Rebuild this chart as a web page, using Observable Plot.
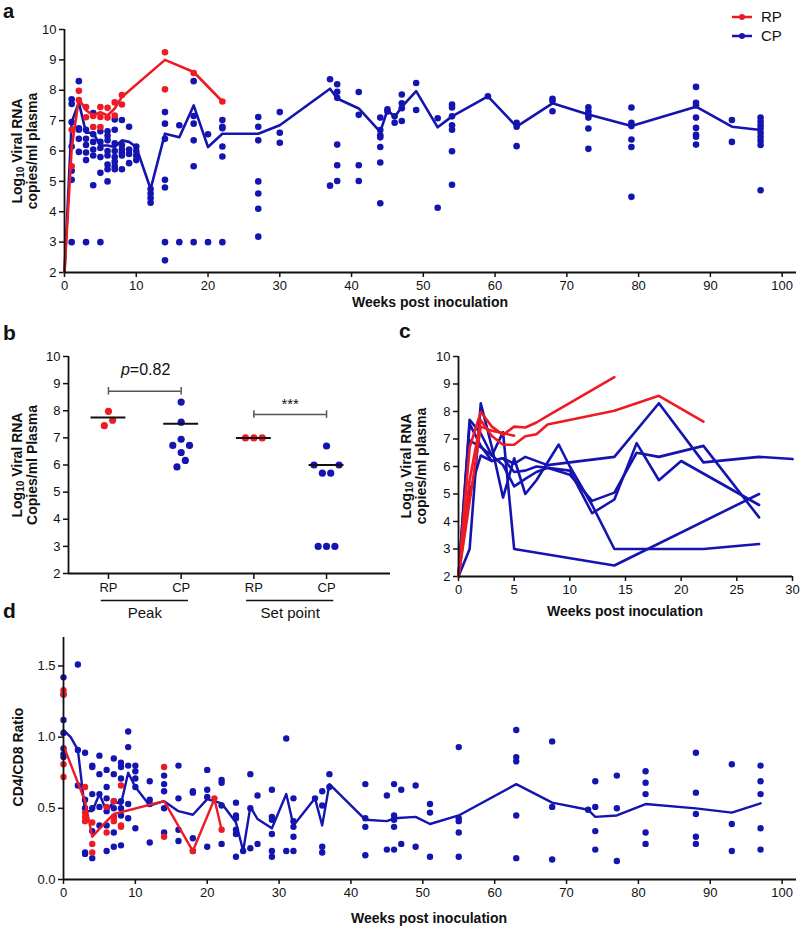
<!DOCTYPE html>
<html><head><meta charset="utf-8">
<script src="https://cdn.jsdelivr.net/npm/d3@7"></script>
<script src="https://cdn.jsdelivr.net/npm/@observablehq/plot@0.6"></script>
<style>
body{margin:0;background:#fff;font-family:"Liberation Sans",Arial,Helvetica,sans-serif;}
#root{position:relative;width:800px;height:929px;overflow:hidden;background:#fff;}
.plab{position:absolute;font-weight:bold;font-size:21px;line-height:14px;color:#111;}
.ylab{position:absolute;font-weight:bold;font-size:14px;color:#111;white-space:nowrap;transform:translate(-50%,-50%) rotate(-90deg);text-align:center;line-height:15px;}
.ylab sub{font-size:10px;line-height:0;vertical-align:-2px;}
.xlab{position:absolute;font-weight:bold;font-size:14px;color:#111;white-space:nowrap;transform:translate(-50%,-50%);}
.leg{position:absolute;display:flex;align-items:center;font-size:15px;color:#111;}
.leg span{margin-left:8px;}
</style></head>
<body><div id="root"></div>
<script>
// ---------- colours ----------
const RED = "#ee1b24", BLUE = "#1414b0";

// ---------- panel a : viral load over time ----------
const weekTicks100 = [0,10,20,30,40,50,60,70,80,90,100];
const viralTicks = [2,3,4,5,6,7,8,9,10];
const rpViralDots = [
  [1,[6.7,5.5]],[2,[7.98,7.68]],[3,[7.45,7.11]],[4,[7.15,6.79]],[5,[7.45,7.12,6.79]],
  [6,[7.42,7.1]],[7,[7.6,7.17]],[8,[7.84,7.53]],[14,[9.25,8.03]],[18,[8.57]],[22,[7.63]]
];
const cpViralDots = [
  [1,[7.7,7.55,6.95,6.15,5.35,5.05,3.0]],[2,[8.3,6.75,6.7,6.4,5.97]],[3,[6.7,6.4,6.2,5.95,5.7,3.0]],
  [4,[7.25,6.55,6.3,6.05,5.85,4.87]],[5,[6.65,6.3,6.1,5.8,5.28,3.0]],[6,[6.65,6.5,6.35,6.0,5.85,5.55,5.4,5.0]],
  [7,[7.04,6.7,6.25,6.0,5.8,5.65,5.5,5.4]],[8,[7.02,6.2,6.05,5.95,5.85,5.4]],[9,[6.8,6.05,5.9,5.6]],
  [10,[6.15,6.0,5.85,5.7]],[12,[4.75,4.6,4.45,4.3]],[14,[7.28,6.9,6.4,5.05,4.8,3.0,2.4]],[16,[6.85,3.0]],
  [18,[8.3,7.15,6.9,6.35,5.5,3.0]],[20,[6.55,3.0]],[22,[7.02,6.8,6.75,6.15,5.82,3.0]],
  [27,[7.12,6.8,6.35,5.0,4.6,4.1,3.18]],[30,[7.28,6.6,6.27]],[37,[8.36,4.86]],[38,[8.2,7.95,7.75,6.21,5.53,5.01]],
  [41,[7.94,7.19,5.53,5.01]],[44,[7.1,6.69,6.52,6.45,6.13,5.62,4.28]],[45,[7.37,7.3]],[46,[7.14,6.93]],
  [47,[7.86,7.57,7.41,6.99]],[49,[8.24,7.35]],[52,[7.08,4.13]],[54,[7.53,7.43,7.14,6.85,6.7,5.99,4.89]],
  [59,[7.8]],[63,[6.93,6.8,6.16]],[68,[7.72,7.65,7.31]],[73,[7.44,7.31,7.2,7.1,6.74,6.07]],
  [79,[7.43,6.93,6.82,6.38,6.13,4.49]],[88,[8.11,7.59,7.5,7.1,6.76,6.53,6.47,6.21]],[93,[7.02,6.3]],
  [97,[7.1,6.97,6.85,6.74,6.6,6.47,6.34,6.2,4.71]]
];
const rpViralMean = [[0,2],[1,6.1],[2,7.72],[3,7.34],[4,7.17],[5,7.28],[6,7.17],[7,7.4],[8,7.78],[14,9.0],[18,8.6],[22,7.63]];
const cpViralMean = [[0,2],[1,6.95],[2,7.6],[3,6.6],[4,6.6],[5,6.18],[6,6.18],[7,6.13],[8,6.35],[9,6.3],[10,6.13],
  [12,4.75],[14,6.57],[16,6.45],[18,7.5],[20,6.13],[22,6.57],[27,6.57],[30,6.85],[37,8.05],[38,7.73],[41,7.4],
  [44,6.63],[45,7.35],[46,7.12],[47,7.45],[49,7.97],[52,6.78],[54,7.14],[59,7.8],[63,6.8],[68,7.57],[73,7.2],
  [79,6.82],[88,7.46],[93,6.8],[97,6.69]];
const legendItems = [{name:"RP", color:RED},{name:"CP", color:BLUE}];

// ---------- panel b : peak and set point ----------
const bCategories = ["RP","CP","RP","CP"];
const bGroupNames = ["Peak","Set point"];
const bValues = [              // [value, side-by-side slot]
  [[7.98,0],[7.45,-0.5],[7.65,0.5]],
  [[8.32,0],[7.58,0],[6.95,0],[6.72,-1],[6.72,1],[6.46,0],[6.17,0.5],[5.93,-0.5]],
  [[7.0,-1],[7.0,0],[7.0,1]],
  [[6.7,0],[6.0,-1.5],[6.0,1.5],[5.7,-0.5],[5.7,0.5],[3.0,-1],[3.0,0],[3.0,1]]
];
const bMedians = [7.75,7.52,7.0,6.0];
const bTests = [{from:1,to:2,y:8.72,labelY:9.5,label:"p=0.82",italicFirst:true},
                {from:3,to:4,y:7.86,labelY:8.25,label:"***",italicFirst:false}];

// ---------- panel c : individual animals ----------
const weekTicks30 = [0,5,10,15,20,25,30];
const rpAnimals = [
  [[0,2],[1,6.7],[2,7.98],[3,7.45],[4,7.15],[5,7.45],[6,7.42],[7,7.6],[8,7.84],[14,9.25]],
  [[0,2],[1,5.5],[2,7.68],[3,7.11],[4,6.79],[5,6.79],[6,7.1],[7,7.17],[8,7.53],[14,8.03],[18,8.57],[22,7.63]],
  [[0,2],[2,7.45],[3,7.3],[5,7.12]]
];
const cpAnimals = [
  [[0,2],[1,7.7],[2,7.2],[3,6.4],[4,6.05],[5,5.28],[6,5.55],[7,5.8],[8,5.95],[10,5.85],[12,4.3],[14,4.8],[16,6.85],[18,5.5],[20,6.2],[27,4.6]],
  [[0,2],[1,7.55],[2,6.75],[3,6.2],[4,6.3],[5,5.8],[6,5.85],[7,6.0],[8,5.95],[10,5.7],[12,4.75],[14,5.05],[16,6.5],[18,6.35],[22,6.75],[27,4.15]],
  [[0,2],[1,5.05],[2,6.4],[3,6.2],[4,6.3],[5,6.1],[6,6.35],[8,6.05],[14,6.35],[18,8.3],[22,6.15],[27,6.35],[30,6.27]],
  [[0,2],[1,3.0],[2,8.3],[3,6.7],[4,4.87],[5,6.3],[6,5.0],[7,5.5],[9,6.8],[10,6.0],[12,4.6],[14,3.0],[22,3.0],[27,3.18]],
  [[0,2],[1,6.95],[2,6.7],[3,6.4],[4,7.25],[5,3.0],[14,2.4],[27,5.0]]
];

// ---------- panel d : CD4/CD8 ratio ----------
const ratioTicks = [0,0.5,1.0,1.5];
const rpRatioDots = [[0,[1.33,1.30,0.81,0.72]],[3,[0.65,0.47,0.44,0.41]],[4,[0.40,0.25,0.19]],[6,[0.51,0.33]],
  [7,[0.55,0.43,0.41]],[8,[0.66,0.38,0.37]],[14,[0.79,0.30]],[18,[0.2]],[21,[0.57]],[22,[0.35]]];
const cpRatioDots = [
  [0,[1.42,1.30,1.12,1.03,0.92,0.88,0.86]],[2,[1.51,0.91,0.66]],[3,[0.89,0.56,0.5,0.19,0.18]],
  [4,[0.80,0.79,0.6,0.5,0.34,0.15]],[5,[0.87,0.74,0.6,0.51,0.38]],[6,[0.77,0.65,0.57,0.48,0.38,0.2]],
  [7,[0.85,0.74,0.55,0.5,0.44,0.33,0.23]],[8,[0.82,0.79,0.71,0.55,0.5,0.45,0.24]],[9,[1.04,0.93,0.8,0.53,0.43]],
  [10,[0.8,0.76,0.71,0.65,0.36]],[12,[0.69,0.56,0.53,0.26]],[14,[0.73,0.67,0.62,0.5,0.33]],[16,[0.80,0.57,0.35,0.27]],
  [18,[0.62,0.61,0.29,0.2]],[20,[0.77,0.63,0.58,0.23]],[22,[0.70,0.68,0.52,0.25]],[24,[0.54,0.45,0.43,0.35,0.32,0.16]],
  [25,[0.2]],[26,[0.74,0.5,0.22]],[27,[0.59,0.25]],[29,[0.63,0.44,0.42,0.32,0.2,0.16]],[31,[0.99,0.2]],
  [32,[0.57,0.41,0.37,0.3,0.2]],[35,[0.57]],[36,[0.62,0.52,0.23,0.19]],[37,[0.74,0.65]],[42,[0.67,0.43,0.37,0.17]],
  [45,[0.59,0.21]],[46,[0.67,0.45,0.42,0.37,0.21]],[47,[0.63,0.25]],[49,[0.66,0.23]],[51,[0.53,0.47,0.16]],
  [55,[0.93,0.43,0.41,0.33,0.16]],[63,[1.05,0.86,0.83,0.45,0.15]],[68,[0.97,0.51,0.14]],[73,[0.49]],
  [74,[0.69,0.51,0.34,0.21]],[77,[0.73,0.5,0.13]],[81,[0.76,0.68,0.6,0.33,0.25]],[88,[0.89,0.61,0.46,0.3,0.25]],
  [93,[0.81,0.39,0.2]],[97,[0.8,0.69,0.6,0.36,0.21]]
];
const rpRatioMean = [[0,0.94],[3,0.55],[4,0.3],[6,0.41],[7,0.46],[14,0.55],[18,0.2],[21,0.565],[22,0.35]];
const cpRatioMean = [[0,1.05],[1,1.0],[2,0.91],[3,0.48],[4,0.48],[5,0.6],[6,0.48],[7,0.55],[8,0.53],[9,0.75],[10,0.65],
  [12,0.52],[14,0.55],[16,0.48],[18,0.455],[20,0.565],[22,0.535],[24,0.4],[25,0.2],[26,0.51],[27,0.425],[29,0.36],
  [31,0.6],[32,0.38],[35,0.57],[36,0.38],[37,0.67],[42,0.42],[45,0.41],[46,0.43],[49,0.44],[51,0.39],[55,0.45],
  [63,0.67],[68,0.54],[73,0.49],[74,0.44],[77,0.45],[81,0.53],[88,0.5],[93,0.47],[97,0.535]];

// ---------- helpers ----------
const flat = rows => rows.flatMap(([w, vs]) => vs.map(v => ({w, v})));
const pts = arr => arr.map(([w, v]) => ({w, v}));
const root = document.getElementById("root");
const FONT = '"Liberation Sans", Arial, Helvetica, sans-serif';
const baseStyle = {fontFamily: FONT, fontSize: "13px", color: "#111", background: "transparent", overflow: "visible"};
function place(svg, left, top) {
  svg.style.position = "absolute"; svg.style.left = left + "px"; svg.style.top = top + "px";
  root.appendChild(svg);
}
function html(cls, inner, left, top) {
  const d = document.createElement("div"); d.className = cls; d.innerHTML = inner;
  d.style.left = left + "px"; d.style.top = top + "px"; root.appendChild(d); return d;
}
const axisOpts = {tickSize: 5, tickPadding: 3, strokeWidth: 1.5, label: null, color: "#111"};

// ---------- panel a ----------
place(Plot.plot({
  width: 800, height: 300, marginLeft: 64, marginRight: 4, marginTop: 29, marginBottom: 28,
  style: baseStyle,
  x: {domain: [0, 102]}, y: {domain: [2, 10]},
  marks: [
    Plot.axisX(weekTicks100, axisOpts),
    Plot.axisY(viralTicks, axisOpts),
    Plot.dot(flat(cpViralDots), {x: "w", y: "v", r: 3.3, fill: BLUE}),
    Plot.line(pts(cpViralMean), {x: "w", y: "v", stroke: BLUE, strokeWidth: 2.6}),
    Plot.dot(flat(rpViralDots), {x: "w", y: "v", r: 3.3, fill: RED}),
    Plot.line(pts(rpViralMean), {x: "w", y: "v", stroke: RED, strokeWidth: 2.6}),
    Plot.ruleX([0], {stroke: "#111", strokeWidth: 1.8}),
    Plot.ruleY([2], {stroke: "#111", strokeWidth: 1.8})
  ]
}), 0, 0);

// ---------- panel b ----------
const bDots = bValues.flatMap((vals, i) => vals.map(([v, s]) => ({pos: i + 1, v, s, cat: bCategories[i]})));
const bMedRows = bMedians.map((v, i) => ({pos: i + 1, v}));
const bGroups = bGroupNames.map((name, i) => ({name, from: 2 * i + 1, to: 2 * i + 2}));
place(Plot.plot({
  width: 400, height: 290, marginLeft: 68, marginRight: 10, marginTop: 16, marginBottom: 57,
  style: baseStyle,
  x: {domain: [0.45, 4.88]}, y: {domain: [2, 10]},
  marks: [
    Plot.axisX([1, 2, 3, 4], {...axisOpts, tickSize: 6, tickFormat: d => bCategories[d - 1]}),
    Plot.axisY(viralTicks, axisOpts),
    Plot.ruleY(bGroups, {y: () => 2, x1: d => d.from - 0.1, x2: d => d.to + 0.1, dy: 27, stroke: "#111", strokeWidth: 1.4}),
    Plot.text(bGroups, {x: d => (d.from + d.to) / 2, y: () => 2, text: "name", dy: 40, fontSize: 15, fill: "#111"}),
    Plot.ruleY(bTests, {y: "y", x1: "from", x2: "to", stroke: "#555", strokeWidth: 1.5}),
    Plot.ruleX(bTests, {x: "from", y1: d => d.y - 0.14, y2: d => d.y + 0.14, stroke: "#555", strokeWidth: 1.5}),
    Plot.ruleX(bTests, {x: "to", y1: d => d.y - 0.14, y2: d => d.y + 0.14, stroke: "#555", strokeWidth: 1.5}),
    Plot.text(bTests.filter(d => d.italicFirst), {x: d => (d.from + d.to) / 2, y: "labelY", text: d => d.label[0],
      fontStyle: "italic", textAnchor: "end", dx: -15, fontSize: 16, fill: "#111"}),
    Plot.text(bTests.filter(d => d.italicFirst), {x: d => (d.from + d.to) / 2, y: "labelY", text: d => d.label.slice(1),
      textAnchor: "start", dx: -15, fontSize: 16, fill: "#111"}),
    Plot.text(bTests.filter(d => !d.italicFirst), {x: d => (d.from + d.to) / 2, y: "labelY", text: "label",
      fontSize: 15, fill: "#111"}),
    Plot.dot(bDots, {x: d => d.pos + d.s * 0.115, y: "v", r: 3.6, fill: d => d.cat === "RP" ? RED : BLUE}),
    Plot.ruleY(bMedRows, {y: "v", x1: d => d.pos - 0.24, x2: d => d.pos + 0.24, stroke: "#111", strokeWidth: 2}),
    Plot.ruleX([0.45], {stroke: "#111", strokeWidth: 1.8}),
    Plot.ruleY([2], {stroke: "#111", strokeWidth: 1.8})
  ]
}), 0, 340);

// ---------- panel c ----------
const cLines = [
  ...cpAnimals.flatMap((a, i) => a.map(([w, v]) => ({w, v, id: "CP" + i, grp: "CP"}))),
  ...rpAnimals.flatMap((a, i) => a.map(([w, v]) => ({w, v, id: "RP" + i, grp: "RP"})))
];
place(Plot.plot({
  width: 400, height: 290, marginLeft: 58, marginRight: 8, marginTop: 16, marginBottom: 54,
  style: baseStyle,
  x: {domain: [0, 30]}, y: {domain: [2, 10]},
  marks: [
    Plot.axisX(weekTicks30, axisOpts),
    Plot.axisY(viralTicks, axisOpts),
    Plot.line(cLines.filter(d => d.grp === "CP"), {x: "w", y: "v", z: "id", stroke: BLUE, strokeWidth: 2.6}),
    Plot.line(cLines.filter(d => d.grp === "RP"), {x: "w", y: "v", z: "id", stroke: RED, strokeWidth: 2.6}),
    Plot.ruleX([0], {stroke: "#111", strokeWidth: 1.8}),
    Plot.ruleY([2], {stroke: "#111", strokeWidth: 1.8})
  ]
}), 400, 340);

// ---------- panel d ----------
place(Plot.plot({
  width: 800, height: 299, marginLeft: 63, marginRight: 4, marginTop: 7, marginBottom: 50,
  style: baseStyle,
  x: {domain: [0, 102]}, y: {domain: [0, 1.7]},
  marks: [
    Plot.axisX(weekTicks100, axisOpts),
    Plot.axisY(ratioTicks, {...axisOpts, tickFormat: d3.format(".1f")}),
    Plot.dot(flat(cpRatioDots), {x: "w", y: "v", r: 3.2, fill: BLUE}),
    Plot.line(pts(cpRatioMean), {x: "w", y: "v", stroke: BLUE, strokeWidth: 2.4}),
    Plot.dot(flat(rpRatioDots), {x: "w", y: "v", r: 3.2, fill: RED}),
    Plot.line(pts(rpRatioMean), {x: "w", y: "v", stroke: RED, strokeWidth: 2.4}),
    Plot.ruleX([0], {stroke: "#111", strokeWidth: 1.8}),
    Plot.ruleY([0], {stroke: "#111", strokeWidth: 1.8})
  ]
}), 0, 630);

// ---------- text: panel letters, axis titles ----------
html("plab", "a", 3, 4).style.fontSize = "20px";
html("plab", "b", 3, 326);
html("plab", "c", 399, 324);
html("plab", "d", 3, 604);
const viralTitle = "Log<sub>10</sub> Viral RNA";
html("ylab", viralTitle + "<br>copies/ml plasma", 25, 151);
html("ylab", viralTitle + "<br>Copies/ml Plasma", 25, 465);
html("ylab", viralTitle + "<br>copies/ml plasma", 414, 466);
html("ylab", "CD4/CD8 Ratio", 18, 757);
html("xlab", "Weeks post inoculation", 430, 302);
html("xlab", "Weeks post inoculation", 625, 611);
html("xlab", "Weeks post inoculation", 429, 918);

// ---------- legend (panel a) ----------
legendItems.forEach((it, i) => {
  html("leg", `<svg width="22" height="12"><line x1="1" x2="21" y1="6" y2="6" stroke="${it.color}" stroke-width="2.5"/><circle cx="11" cy="6" r="3" fill="${it.color}"/></svg><span>${it.name}</span>`,
    731, 8 + i * 19);
});
</script>
</body></html>
